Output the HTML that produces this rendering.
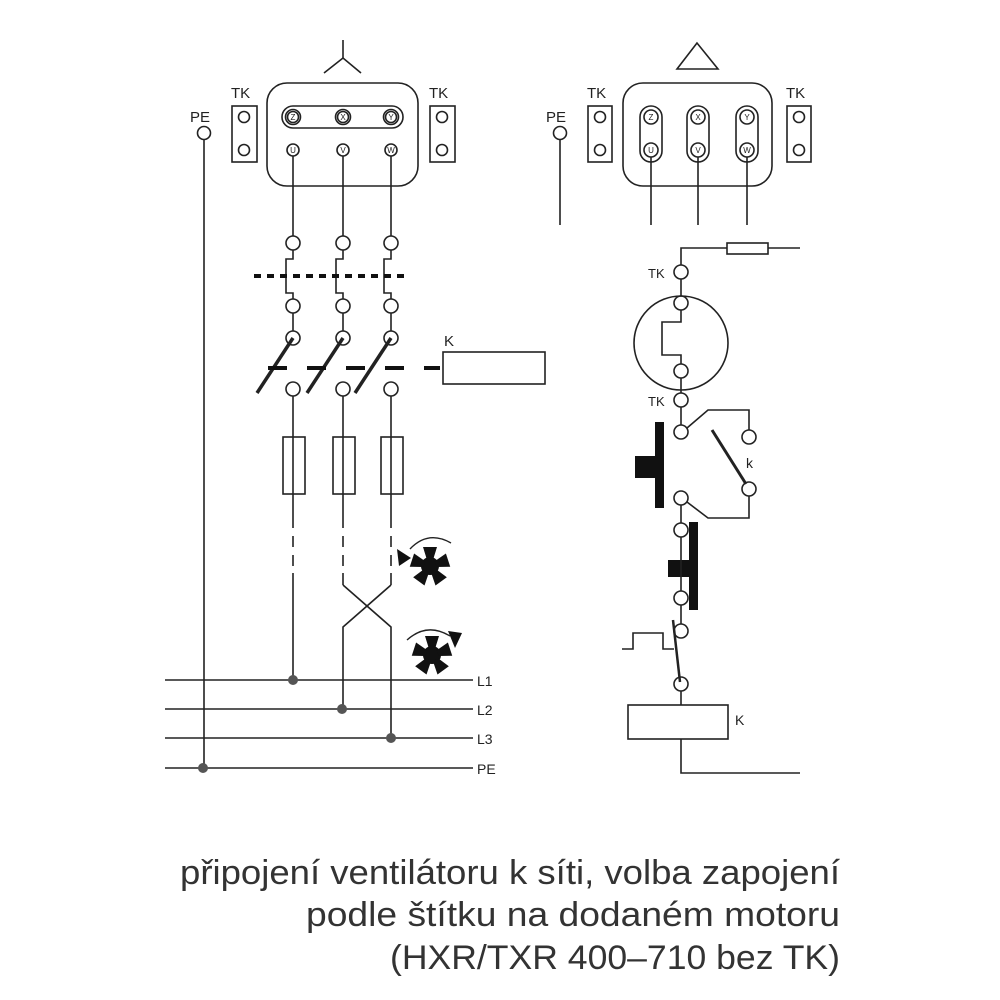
<!DOCTYPE html>
<html><head><meta charset="utf-8"><style>
body{margin:0;background:#fff}
svg{display:block}
text{font-family:"Liberation Sans",sans-serif;fill:#222}
</style></head><body>
<svg width="1000" height="1000" viewBox="0 0 1000 1000" xmlns="http://www.w3.org/2000/svg">
<defs>
<g id="fan">
<circle r="9" fill="#111"/>
<g fill="#111">
<polygon points="-3,-6 3,-6 7,-19 -7,-19"/>
<polygon points="-3,-6 3,-6 7,-19 -7,-19" transform="rotate(72)"/>
<polygon points="-3,-6 3,-6 7,-19 -7,-19" transform="rotate(144)"/>
<polygon points="-3,-6 3,-6 7,-19 -7,-19" transform="rotate(216)"/>
<polygon points="-3,-6 3,-6 7,-19 -7,-19" transform="rotate(288)"/>
</g>
</g>
</defs>
<g stroke="#222" stroke-width="1.6" fill="none">
<line x1="343" y1="40" x2="343" y2="58"/>
<polyline points="324,73 343,58 361,73"/>
<text x="190" y="122" font-size="15" stroke="none">PE</text>
<circle cx="204" cy="133" r="6.5"/>
<line x1="204" y1="140" x2="204" y2="768"/>
<text x="231" y="98" font-size="15" stroke="none">TK</text>
<rect x="232" y="106" width="25" height="56"/>
<circle cx="244" cy="117" r="5.5"/><circle cx="244" cy="150" r="5.5"/>
<text x="429" y="98" font-size="15" stroke="none">TK</text>
<rect x="430" y="106" width="25" height="56"/>
<circle cx="442" cy="117" r="5.5"/><circle cx="442" cy="150" r="5.5"/>
<rect x="267" y="83" width="151" height="103" rx="20"/>
<rect x="282" y="106" width="121" height="22" rx="11"/>
<g font-size="8" text-anchor="middle">
<circle cx="293" cy="117" r="7.5"/><circle cx="293" cy="117" r="5.5"/><text x="293" y="120" stroke="none">Z</text>
<circle cx="343" cy="117" r="7.5"/><circle cx="343" cy="117" r="5.5"/><text x="343" y="120" stroke="none">X</text>
<circle cx="391" cy="117" r="7.5"/><circle cx="391" cy="117" r="5.5"/><text x="391" y="120" stroke="none">Y</text>
<circle cx="293" cy="150" r="6"/><text x="293" y="153" stroke="none">U</text>
<circle cx="343" cy="150" r="6"/><text x="343" y="153" stroke="none">V</text>
<circle cx="391" cy="150" r="6"/><text x="391" y="153" stroke="none">W</text>
</g>
<g id="col">
<line x1="293" y1="156" x2="293" y2="236"/>
<circle cx="293" cy="243" r="7"/>
<polyline points="293,250 293,259 286,259 286,293 293,293 293,299"/>
<circle cx="293" cy="306" r="7"/>
<line x1="293" y1="313" x2="293" y2="331"/>
<circle cx="293" cy="338" r="7"/>
<line x1="293" y1="338" x2="257" y2="393" stroke-width="3.5"/>
<circle cx="293" cy="389" r="7"/>
<line x1="293" y1="396" x2="293" y2="528"/>
<rect x="283" y="437" width="22" height="57"/>
<line x1="293" y1="536" x2="293" y2="547"/>
<line x1="293" y1="555" x2="293" y2="566"/>
</g>
<use href="#col" x="50"/>
<use href="#col" x="98"/>
<line x1="254" y1="276" x2="405" y2="276" stroke-width="4" stroke-dasharray="7,6" stroke="#111"/>
<line x1="268" y1="368" x2="440" y2="368" stroke-width="4" stroke-dasharray="19,20" stroke="#111"/>
<text x="444" y="346" font-size="15" stroke="none">K</text>
<rect x="443" y="352" width="102" height="32"/>
<line x1="293" y1="573" x2="293" y2="680"/>
<line x1="343" y1="573" x2="343" y2="585"/>
<line x1="391" y1="573" x2="391" y2="585"/>
<polyline points="343,585 391,627 391,738"/>
<polyline points="391,585 343,627 343,709"/>
<line x1="165" y1="680" x2="473" y2="680"/>
<line x1="165" y1="709" x2="473" y2="709"/>
<line x1="165" y1="738" x2="473" y2="738"/>
<line x1="165" y1="768" x2="473" y2="768"/>
<g font-size="14" stroke="none">
<text x="477" y="686">L1</text><text x="477" y="715">L2</text><text x="477" y="744">L3</text><text x="477" y="774">PE</text>
</g>
<g fill="#555" stroke="none">
<circle cx="293" cy="680" r="5"/><circle cx="342" cy="709" r="5"/><circle cx="391" cy="738" r="5"/><circle cx="203" cy="768" r="5"/>
</g>
<use href="#fan" x="430" y="566" stroke="none"/>
<path d="M410,549 Q428,530 451,543" stroke-width="1.4"/>
<polygon points="397,549 411,558 399,566" fill="#111" stroke="none"/>
<use href="#fan" x="432" y="655" stroke="none"/>
<path d="M407,640 Q427,622 450,636" stroke-width="1.4"/>
<polygon points="448,631 462,633 455,648" fill="#111" stroke="none"/>

<polygon points="697,43 677,69 718,69"/>
<text x="546" y="122" font-size="15" stroke="none">PE</text>
<circle cx="560" cy="133" r="6.5"/>
<line x1="560" y1="140" x2="560" y2="225"/>
<text x="587" y="98" font-size="15" stroke="none">TK</text>
<rect x="588" y="106" width="24" height="56"/>
<circle cx="600" cy="117" r="5.5"/><circle cx="600" cy="150" r="5.5"/>
<text x="786" y="98" font-size="15" stroke="none">TK</text>
<rect x="787" y="106" width="24" height="56"/>
<circle cx="799" cy="117" r="5.5"/><circle cx="799" cy="150" r="5.5"/>
<rect x="623" y="83" width="149" height="103" rx="20"/>
<g font-size="8" text-anchor="middle">
<rect x="640" y="106" width="22" height="56" rx="11"/>
<rect x="687" y="106" width="22" height="56" rx="11"/>
<rect x="736" y="106" width="22" height="56" rx="11"/>
<circle cx="651" cy="117" r="7"/><text x="651" y="120" stroke="none">Z</text>
<circle cx="698" cy="117" r="7"/><text x="698" y="120" stroke="none">X</text>
<circle cx="747" cy="117" r="7"/><text x="747" y="120" stroke="none">Y</text>
<circle cx="651" cy="150" r="7"/><text x="651" y="153" stroke="none">U</text>
<circle cx="698" cy="150" r="7"/><text x="698" y="153" stroke="none">V</text>
<circle cx="747" cy="150" r="7"/><text x="747" y="153" stroke="none">W</text>
</g>
<line x1="651" y1="157" x2="651" y2="225"/>
<line x1="698" y1="157" x2="698" y2="225"/>
<line x1="747" y1="157" x2="747" y2="225"/>
<polyline points="681,265 681,248 800,248"/>
<rect x="727" y="243" width="41" height="11" fill="#fff"/>
<text x="648" y="278" font-size="13" stroke="none">TK</text>
<circle cx="681" cy="272" r="7"/>
<line x1="681" y1="279" x2="681" y2="296"/>
<circle cx="681" cy="343" r="47"/>
<circle cx="681" cy="303" r="7"/>
<polyline points="681,310 681,322 662,322 662,355 681,355 681,364"/>
<circle cx="681" cy="371" r="7"/>
<line x1="681" y1="378" x2="681" y2="393"/>
<text x="648" y="406" font-size="13" stroke="none">TK</text>
<circle cx="681" cy="400" r="7"/>
<line x1="681" y1="407" x2="681" y2="425"/>
<circle cx="681" cy="432" r="7"/>
<polyline points="687,428 708,410 749,410 749,430"/>
<circle cx="749" cy="437" r="7"/>
<line x1="712" y1="430" x2="746" y2="484" stroke-width="3"/>
<text x="746" y="468" font-size="14" stroke="none">k</text>
<circle cx="749" cy="489" r="7"/>
<polyline points="749,496 749,518 708,518 687,502"/>
<circle cx="681" cy="498" r="7"/>
<line x1="681" y1="505" x2="681" y2="523"/>
<g fill="#111" stroke="none">
<rect x="655" y="422" width="9" height="86"/>
<rect x="635" y="456" width="29" height="22"/>
<rect x="689" y="522" width="9" height="88"/>
<rect x="668" y="560" width="30" height="17"/>
</g>
<circle cx="681" cy="530" r="7"/>
<line x1="681" y1="537" x2="681" y2="591"/>
<circle cx="681" cy="598" r="7"/>
<line x1="681" y1="605" x2="681" y2="624"/>
<circle cx="681" cy="631" r="7"/>
<line x1="673" y1="620" x2="680" y2="682" stroke-width="2.5"/>
<polyline points="622,649 633,649 633,633 663,633 663,649 674,649"/>
<circle cx="681" cy="684" r="7"/>
<line x1="681" y1="691" x2="681" y2="705"/>
<rect x="628" y="705" width="100" height="34"/>
<text x="735" y="725" font-size="14" stroke="none">K</text>
<polyline points="681,739 681,773 800,773"/>
</g>
<g font-size="34">
<text x="180" y="884" textLength="660" lengthAdjust="spacingAndGlyphs" style="fill:#333">připojení ventilátoru k síti, volba zapojení</text>
<text x="306" y="926" textLength="534" lengthAdjust="spacingAndGlyphs" style="fill:#333">podle štítku na dodaném motoru</text>
<text x="390" y="969" textLength="450" lengthAdjust="spacingAndGlyphs" style="fill:#333">(HXR/TXR 400–710 bez TK)</text>
</g>
</svg>
</body></html>
